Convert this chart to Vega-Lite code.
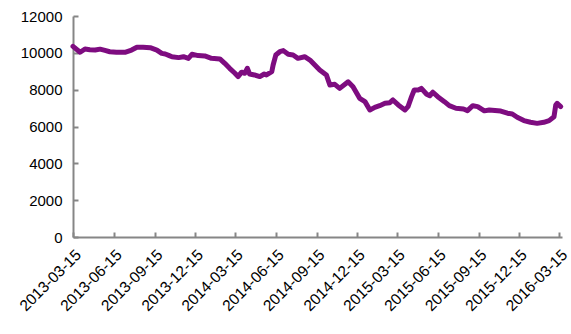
{
  "$schema": "https://vega.github.io/schema/vega-lite/v6.json",
  "width": 489,
  "height": 221,
  "autosize": {"type": "none"},
  "padding": {"left": 73, "top": 16, "right": 9, "bottom": 97},
  "background": "white",
  "config": {"view": {"stroke": null}, "font": "Liberation Sans"},
  "data": {
    "values": [
      {"date": "2013-03-15", "value": 10350},
      {"date": "2013-03-31", "value": 10030},
      {"date": "2013-04-11", "value": 10210},
      {"date": "2013-04-22", "value": 10170},
      {"date": "2013-05-04", "value": 10150},
      {"date": "2013-05-15", "value": 10200},
      {"date": "2013-05-26", "value": 10130},
      {"date": "2013-06-06", "value": 10060},
      {"date": "2013-06-21", "value": 10030},
      {"date": "2013-07-10", "value": 10030},
      {"date": "2013-07-25", "value": 10150},
      {"date": "2013-08-06", "value": 10300},
      {"date": "2013-08-20", "value": 10300},
      {"date": "2013-09-05", "value": 10280},
      {"date": "2013-09-20", "value": 10150},
      {"date": "2013-10-01", "value": 9970},
      {"date": "2013-10-09", "value": 9940},
      {"date": "2013-10-18", "value": 9850},
      {"date": "2013-10-24", "value": 9790},
      {"date": "2013-11-08", "value": 9740},
      {"date": "2013-11-19", "value": 9790},
      {"date": "2013-11-30", "value": 9700},
      {"date": "2013-12-08", "value": 9920},
      {"date": "2013-12-22", "value": 9850},
      {"date": "2014-01-06", "value": 9830},
      {"date": "2014-01-21", "value": 9700},
      {"date": "2014-02-09", "value": 9670},
      {"date": "2014-02-20", "value": 9430},
      {"date": "2014-03-03", "value": 9160},
      {"date": "2014-03-15", "value": 8890},
      {"date": "2014-03-22", "value": 8710},
      {"date": "2014-03-30", "value": 8950},
      {"date": "2014-04-06", "value": 8890},
      {"date": "2014-04-12", "value": 9160},
      {"date": "2014-04-17", "value": 8850},
      {"date": "2014-04-28", "value": 8800},
      {"date": "2014-05-10", "value": 8710},
      {"date": "2014-05-20", "value": 8850},
      {"date": "2014-05-25", "value": 8800},
      {"date": "2014-06-06", "value": 8980},
      {"date": "2014-06-09", "value": 9340},
      {"date": "2014-06-15", "value": 9880},
      {"date": "2014-06-24", "value": 10060},
      {"date": "2014-07-02", "value": 10120},
      {"date": "2014-07-13", "value": 9920},
      {"date": "2014-07-24", "value": 9880},
      {"date": "2014-08-04", "value": 9700},
      {"date": "2014-08-19", "value": 9790},
      {"date": "2014-08-31", "value": 9610},
      {"date": "2014-09-11", "value": 9340},
      {"date": "2014-09-22", "value": 9070},
      {"date": "2014-10-07", "value": 8800},
      {"date": "2014-10-15", "value": 8250},
      {"date": "2014-10-26", "value": 8290},
      {"date": "2014-11-06", "value": 8070},
      {"date": "2014-11-25", "value": 8430},
      {"date": "2014-12-06", "value": 8160},
      {"date": "2014-12-21", "value": 7530},
      {"date": "2015-01-02", "value": 7350},
      {"date": "2015-01-13", "value": 6900},
      {"date": "2015-01-24", "value": 7040},
      {"date": "2015-02-04", "value": 7130},
      {"date": "2015-02-16", "value": 7260},
      {"date": "2015-02-27", "value": 7290},
      {"date": "2015-03-06", "value": 7440},
      {"date": "2015-03-18", "value": 7170},
      {"date": "2015-04-02", "value": 6900},
      {"date": "2015-04-09", "value": 7080},
      {"date": "2015-04-17", "value": 7620},
      {"date": "2015-04-23", "value": 7980},
      {"date": "2015-05-02", "value": 7980},
      {"date": "2015-05-09", "value": 8070},
      {"date": "2015-05-21", "value": 7750},
      {"date": "2015-05-28", "value": 7670},
      {"date": "2015-06-04", "value": 7860},
      {"date": "2015-06-15", "value": 7620},
      {"date": "2015-06-30", "value": 7350},
      {"date": "2015-07-11", "value": 7130},
      {"date": "2015-07-26", "value": 6990},
      {"date": "2015-08-12", "value": 6950},
      {"date": "2015-08-21", "value": 6860},
      {"date": "2015-09-02", "value": 7130},
      {"date": "2015-09-13", "value": 7080},
      {"date": "2015-09-28", "value": 6850},
      {"date": "2015-10-09", "value": 6900},
      {"date": "2015-11-04", "value": 6840},
      {"date": "2015-11-19", "value": 6720},
      {"date": "2015-11-30", "value": 6680},
      {"date": "2015-12-11", "value": 6500},
      {"date": "2015-12-26", "value": 6320},
      {"date": "2016-01-10", "value": 6230},
      {"date": "2016-01-25", "value": 6170},
      {"date": "2016-02-09", "value": 6230},
      {"date": "2016-02-21", "value": 6320},
      {"date": "2016-03-03", "value": 6530},
      {"date": "2016-03-07", "value": 7170},
      {"date": "2016-03-10", "value": 7260},
      {"date": "2016-03-18", "value": 7080}
    ]
  },
  "mark": {"type": "line", "color": "#7e0c80", "strokeWidth": 5, "strokeJoin": "round", "strokeCap": "round"},
  "encoding": {
    "x": {
      "field": "date",
      "type": "temporal",
      "scale": {
        "type": "utc",
        "domain": [
          {"year": 2013, "month": 3, "date": 15, "utc": true},
          {"year": 2016, "month": 3, "date": 21, "utc": true}
        ]
      },
      "axis": {
        "title": null,
        "values": [
          {"year": 2013, "month": 3, "date": 15, "utc": true},
          {"year": 2013, "month": 6, "date": 15, "utc": true},
          {"year": 2013, "month": 9, "date": 15, "utc": true},
          {"year": 2013, "month": 12, "date": 15, "utc": true},
          {"year": 2014, "month": 3, "date": 15, "utc": true},
          {"year": 2014, "month": 6, "date": 15, "utc": true},
          {"year": 2014, "month": 9, "date": 15, "utc": true},
          {"year": 2014, "month": 12, "date": 15, "utc": true},
          {"year": 2015, "month": 3, "date": 15, "utc": true},
          {"year": 2015, "month": 6, "date": 15, "utc": true},
          {"year": 2015, "month": 9, "date": 15, "utc": true},
          {"year": 2015, "month": 12, "date": 15, "utc": true},
          {"year": 2016, "month": 3, "date": 15, "utc": true}
        ],
        "labelExpr": "utcFormat(datum.value, '%Y-%m-%d')",
        "labelAngle": -45,
        "labelFontSize": 15.5,
        "labelColor": "#000000",
        "labelFont": "Liberation Sans",
        "labelPadding": 15,
        "labelOverlap": false,
        "labelFlush": false,
        "domainColor": "#868686",
        "domainWidth": 2,
        "tickColor": "#868686",
        "tickWidth": 2,
        "tickSize": -5,
        "grid": false
      }
    },
    "y": {
      "field": "value",
      "type": "quantitative",
      "scale": {"domain": [0, 12000], "nice": false, "zero": true},
      "axis": {
        "title": null,
        "values": [0, 2000, 4000, 6000, 8000, 10000, 12000],
        "format": "d",
        "labelFontSize": 15,
        "labelColor": "#000000",
        "labelFont": "Liberation Sans",
        "labelPadding": 16,
        "labelFlush": false,
        "domainColor": "#868686",
        "domainWidth": 2,
        "tickColor": "#868686",
        "tickWidth": 2,
        "tickSize": -5,
        "grid": false
      }
    }
  }
}
